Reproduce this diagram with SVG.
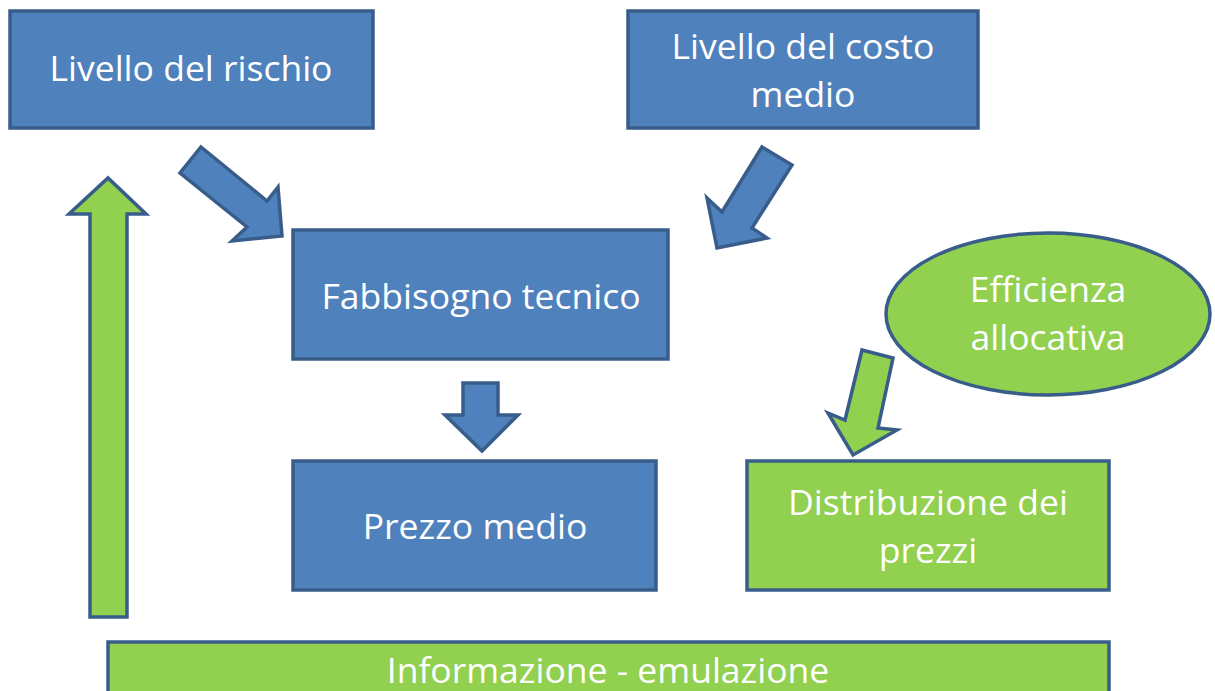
<svg xmlns="http://www.w3.org/2000/svg" width="1215" height="691" viewBox="0 0 1215 691">
<style>
.b{fill:#4F81BD;stroke:#385D8A;stroke-width:3.5}
.g{fill:#92D050;stroke:#385D8A;stroke-width:3.5}
text{font-family:"Open Sans","Noto Sans",sans-serif;font-size:35.5px;fill:#fff;text-anchor:middle}
</style>
<rect width="1215" height="691" fill="#fff"/>
<g id="n1"><rect class="b" x="10" y="11" width="363" height="117"/><text x="191" y="81">Livello del rischio</text></g>
<g id="n2"><rect class="b" x="628" y="11" width="350" height="117"/><text x="803" y="59">Livello del costo</text><text x="803" y="107">medio</text></g>
<g id="n3"><rect class="b" x="293" y="230" width="375" height="129"/><text x="481" y="309">Fabbisogno tecnico</text></g>
<g id="n4"><rect class="b" x="293" y="461" width="363" height="129"/><text x="475" y="539">Prezzo medio</text></g>
<g id="n5"><rect class="g" x="747" y="461" width="362" height="129"/><text x="928" y="515">Distribuzione dei</text><text x="928" y="563">prezzi</text></g>
<g id="n6"><ellipse class="g" cx="1048" cy="314" rx="162" ry="81"/><text x="1048" y="302">Efficienza</text><text x="1048" y="350">allocativa</text></g>
<g id="n7"><rect class="g" x="108" y="642" width="1001" height="60"/><text x="608" y="683">Informazione - emulazione</text></g>
<g id="connectors">
<polygon class="g" points="90,617 127,617 127,214 146,214 108,178 69,214 90,214"/>
<polygon class="b" points="201,147 267,201 278,187 282,236 232,241 247,227 180,173"/>
<polygon class="b" points="762,147 792,165 752,228 767,238 717,248 707,198 722,212"/>
<polygon class="b" points="463,383 498,383 498,415 518,415 482,451 445,415 463,415"/>
<polygon class="g" points="862,350 893,358 878,428 897,430 853,455 828,413 845,420"/>
</g>
</svg>
